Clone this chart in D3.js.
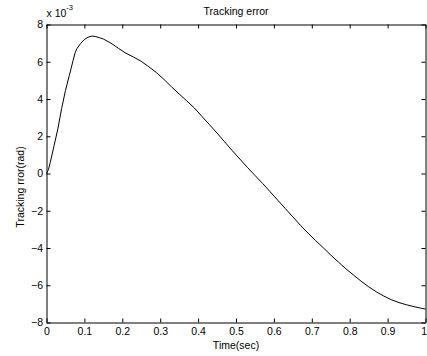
<!DOCTYPE html>
<html>
<head>
<meta charset="utf-8">
<script src="https://cdn.jsdelivr.net/npm/d3@7"></script>
<style>
  body { margin: 0; background: #fff; }
  svg { display: block; font-family: "Liberation Sans", Arial, sans-serif; }
  .axis text { font-size: 10.5px; fill: #000; }
  .axis line, .axis path { stroke: #000; }
</style>
</head>
<body>
<svg id="chart"></svg>
<script>
// time (sec)
const timeSec = [0, 0.005, 0.01, 0.02, 0.03, 0.04, 0.05, 0.06, 0.07, 0.075, 0.08, 0.09,
    0.10, 0.11, 0.12, 0.13, 0.14, 0.15, 0.17, 0.19, 0.21, 0.23, 0.25, 0.27, 0.29,
    0.31, 0.33, 0.35, 0.37, 0.39, 0.41, 0.43, 0.45, 0.47, 0.49, 0.51, 0.53, 0.55,
    0.57, 0.59, 0.61, 0.63, 0.65, 0.67, 0.69, 0.71, 0.73, 0.75, 0.77, 0.79, 0.81,
    0.83, 0.85, 0.87, 0.89, 0.91, 0.93, 0.95, 0.97, 0.99, 1.0];
// tracking error, in units of 1e-3 rad
const errorE3 = [0, 0.2, 0.6, 1.5, 2.4, 3.5, 4.45, 5.25, 6.05, 6.45, 6.7, 6.98,
    7.2, 7.32, 7.38, 7.35, 7.29, 7.22, 7.0, 6.72, 6.45, 6.25, 6.02, 5.73, 5.42,
    5.05, 4.65, 4.27, 3.9, 3.52, 3.07, 2.62, 2.17, 1.7, 1.23, 0.78, 0.33, -0.1,
    -0.53, -0.98, -1.43, -1.88, -2.33, -2.78, -3.2, -3.6, -3.98, -4.38, -4.75, -5.12, -5.45,
    -5.78, -6.08, -6.35, -6.58, -6.78, -6.93, -7.05, -7.15, -7.24, -7.28];

const xTicks = [0, 0.1, 0.2, 0.3, 0.4, 0.5, 0.6, 0.7, 0.8, 0.9, 1];
const yTicks = [-8, -6, -4, -2, 0, 2, 4, 6, 8];

const width = 427, height = 356;
const plot = { left: 46.5, right: 425.5, top: 24.5, bottom: 322.5 };

const svg = d3.select('#chart')
    .attr('width', width)
    .attr('height', height);

const x = d3.scaleLinear().domain([0, 1]).range([plot.left, plot.right]);
const y = d3.scaleLinear().domain([-8, 8]).range([plot.bottom, plot.top]);

// curve
const line = d3.line()
    .x((d, i) => x(timeSec[i]))
    .y(d => y(d));

svg.append('path')
    .datum(errorE3)
    .attr('d', line)
    .attr('fill', 'none')
    .attr('stroke', '#000')
    .attr('stroke-width', 1);

// axes, ticks pointing inward like matlab
const xAxis = svg.append('g')
    .attr('class', 'axis')
    .attr('transform', 'translate(0,' + plot.bottom + ')')
    .call(d3.axisBottom(x).tickValues(xTicks).tickSize(-4).tickSizeOuter(0)
        .tickPadding(5).tickFormat(d3.format('')));

// last label sits on the window edge, keep it inside
xAxis.selectAll('.tick text')
    .filter(d => d === 1)
    .attr('text-anchor', 'end')
    .attr('x', 1);

svg.append('g')
    .attr('class', 'axis')
    .attr('transform', 'translate(0,' + plot.top + ')')
    .call(d3.axisTop(x).tickValues(xTicks).tickSize(-4).tickSizeOuter(0).tickFormat(''));

svg.append('g')
    .attr('class', 'axis')
    .attr('transform', 'translate(' + plot.left + ',0)')
    .call(d3.axisLeft(y).tickValues(yTicks).tickSize(-4).tickSizeOuter(0)
        .tickPadding(3.5).tickFormat(d3.format('d')));

svg.append('g')
    .attr('class', 'axis')
    .attr('transform', 'translate(' + plot.right + ',0)')
    .call(d3.axisRight(y).tickValues(yTicks).tickSize(-4).tickSizeOuter(0).tickFormat(''));

// exponent
const expo = svg.append('text')
    .attr('x', 46.5)
    .attr('y', 17.3)
    .style('font-size', '10.5px');
expo.append('tspan').text('x 10');
expo.append('tspan')
    .attr('dy', -7)
    .style('font-size', '7.5px')
    .text('-3');

// title and labels
svg.append('text')
    .attr('x', (plot.left + plot.right) / 2)
    .attr('y', 14.8)
    .attr('text-anchor', 'middle')
    .style('font-size', '10.5px')
    .text('Tracking error');

svg.append('text')
    .attr('x', (plot.left + plot.right) / 2)
    .attr('y', 348.7)
    .attr('text-anchor', 'middle')
    .style('font-size', '10.5px')
    .text('Time(sec)');

svg.append('text')
    .attr('transform', 'translate(24,187) rotate(-90)')
    .attr('text-anchor', 'middle')
    .style('font-size', '10.5px')
    .text('Tracking rror(rad)');
</script>
</body>
</html>
